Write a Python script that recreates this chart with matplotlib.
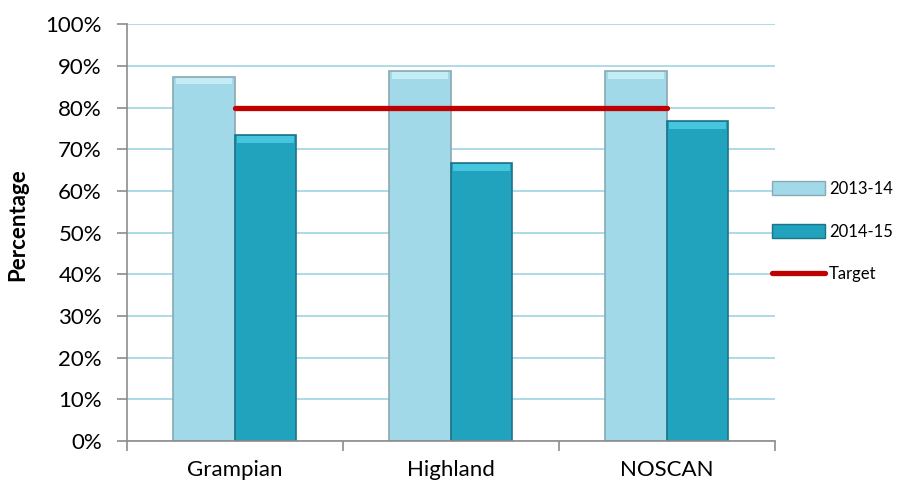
import matplotlib.pyplot as plt
from matplotlib.lines import Line2D
from matplotlib.patches import Patch
import numpy as np

plt.rcParams['font.family'] = ['Lato', 'DejaVu Sans']

regions = ['Grampian', 'Highland', 'NOSCAN']
y1314 = [87.5, 88.9, 88.8]
y1415 = [73.5, 66.7, 76.9]
target = [80, 80, 80]
yticks = [0, 10, 20, 30, 40, 50, 60, 70, 80, 90, 100]

c1 = '#a1d9e9'
c2 = '#21a2bd'
grey = '#8c8c8c'

fig = plt.figure(figsize=(9.03, 4.88), dpi=100)
ax = fig.add_axes([0.1406, 0.0963, 0.858 - 0.1406, 0.9498 - 0.0963])

x = np.arange(len(regions))
w = 0.285

ax.bar(x - w / 2, y1314, w, color=c1, edgecolor='#8aa9b3', linewidth=1.2, zorder=2)
ax.bar(x + w / 2, y1415, w, color=c2, edgecolor='#1b7487', linewidth=1.2, zorder=2)
# bevel highlight on the top of each bar
ax.bar(x - w / 2, [1.6] * 3, w * 0.92, bottom=np.array(y1314) - 1.9, color='#c4ecf6', linewidth=0, zorder=3)
ax.bar(x + w / 2, [1.6] * 3, w * 0.92, bottom=np.array(y1415) - 1.9, color='#45c6de', linewidth=0, zorder=3)

ax.plot(x, target, color='#c00000', linewidth=3.8, solid_capstyle='round', zorder=4)

ax.set_xlim(-0.5, 2.5)
ax.set_ylim(0, 100)
ax.set_yticks(yticks)
ax.set_yticklabels([f'{v}%' for v in yticks], fontsize=16)
ax.set_xticks(x)
ax.set_xticklabels(regions, fontsize=16)
ax.set_xticks([-0.5, 0.5, 1.5, 2.5], minor=True)
ax.tick_params(axis='x', which='major', length=0, pad=14)
ax.tick_params(axis='x', which='minor', length=7, color=grey, width=1.2, direction='out')
ax.tick_params(axis='y', length=7, color=grey, width=1.2, direction='out', pad=11)

ax.grid(axis='y', color='#9fd4e3', linewidth=1.2, zorder=0)
ax.set_axisbelow(True)
for s in ['top', 'right']:
    ax.spines[s].set_visible(False)
for s in ['left', 'bottom']:
    ax.spines[s].set_color(grey)
    ax.spines[s].set_linewidth(1.2)

ax.set_ylabel('Percentage', fontsize=16, fontweight='bold')
ax.yaxis.set_label_coords(-0.152, 0.52)

handles = [Patch(facecolor=c1, edgecolor='#8aa9b3'),
           Patch(facecolor=c2, edgecolor='#1b7487'),
           Line2D([0], [0], color='#c00000', linewidth=3.8, solid_capstyle='round')]
fig.legend(handles, ['2013-14', '2014-15', 'Target'], loc='center left',
           bbox_to_anchor=(0.838, 0.525), frameon=False, fontsize=12,
           handlelength=3.2, handleheight=0.9, handletextpad=0.25, labelspacing=1.6)

fig.savefig('out.png', dpi=100)
